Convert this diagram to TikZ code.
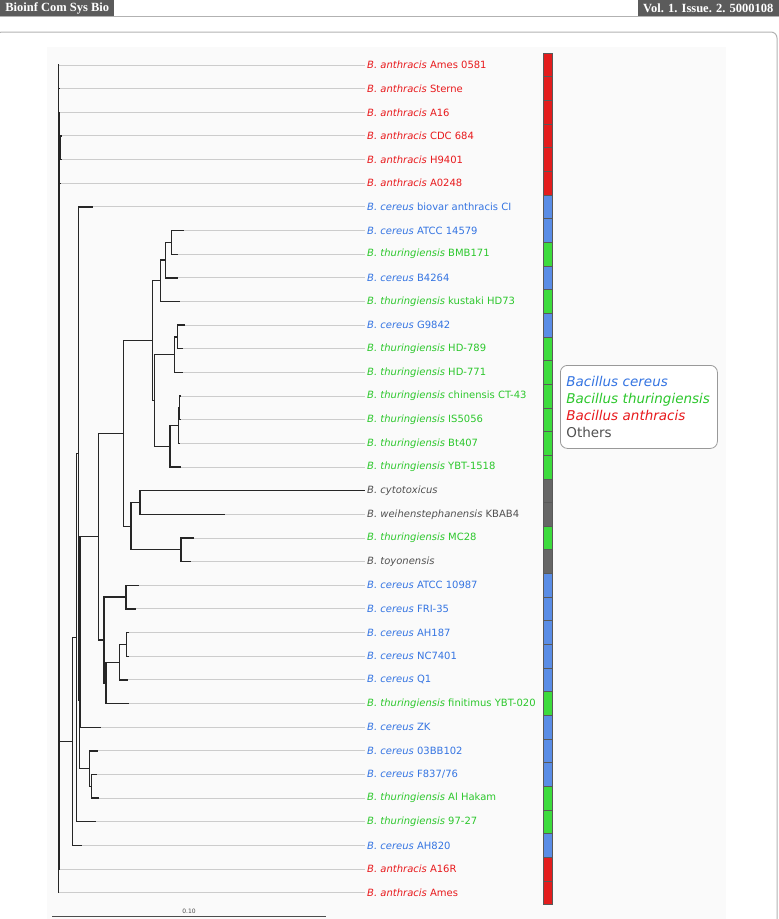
\documentclass[tikz,border=0pt]{standalone}
\usepackage{fontspec}
\setmainfont{DejaVu Sans}
\newfontfamily\headfont{Liberation Serif}
\usetikzlibrary{positioning}

\definecolor{bant}{HTML}{E8191C}
\definecolor{bcer}{HTML}{3474E2}
\definecolor{bthu}{HTML}{2CC72C}
\definecolor{both}{HTML}{505050}
\definecolor{barbant}{HTML}{E31D1D}
\definecolor{barbcer}{HTML}{5A8DE6}
\definecolor{barbthu}{HTML}{3DDB3D}
\definecolor{barboth}{HTML}{666666}
\definecolor{headgray}{HTML}{5B5B5B}

\begin{document}
\begin{tikzpicture}[x=1pt,y=-1pt,
branch/.style={black!85, line width=1.35pt},
ext/.style={black!20, line width=1pt},
leaflbl/.style={anchor=west, inner sep=2pt, font=\fontsize{10}{12}\selectfont},
barcell/.style={draw=black!65, line width=0.7pt},
headbox/.style={fill=headgray, text=white, inner sep=0pt, minimum height=16pt, font=\headfont\bfseries\fontsize{12.5}{14}\selectfont},
legendbox/.style={draw=black!40, fill=white, rounded corners=7pt, line width=0.8pt, align=left, text width=145pt, inner xsep=6pt, minimum height=83pt, font=\fontsize{13.5}{17}\selectfont},
]
\useasboundingbox (0,0) rectangle (779,919);
\clip (0,0) rectangle (779,919);

%Page header and frame
\draw[black!30, line width=0.8pt] (0,16) -- (779,16);
\node[headbox, anchor=north west, minimum width=114pt] (journal) at (0,0) {Bioinf Com Sys Bio};
\node[headbox, anchor=north east, minimum width=141pt] (issue) at (779,0) {Vol. 1. Issue. 2. 5000108};
\draw[black!30, line width=1pt, rounded corners=6pt] (-4,32) rectangle (777,940);
\fill[black!2] (47,47) rectangle (726,925);

%Leaves
\foreach \i/\tx/\col/\sp/\st in {
 1/59/bant/anthracis/Ames 0581, 2/60/bant/anthracis/Sterne, 3/60/bant/anthracis/A16,
 4/61/bant/anthracis/CDC 684, 5/61/bant/anthracis/H9401, 6/61/bant/anthracis/A0248,
 7/93/bcer/cereus/biovar anthracis CI, 8/184.3/bcer/cereus/ATCC 14579,
 9/177.7/bthu/thuringiensis/BMB171, 10/178.3/bcer/cereus/B4264,
 11/180/bthu/thuringiensis/kustaki HD73, 12/185/bcer/cereus/G9842,
 13/182.7/bthu/thuringiensis/HD-789, 14/183.3/bthu/thuringiensis/HD-771,
 15/180.5/bthu/thuringiensis/chinensis CT-43, 16/180.5/bthu/thuringiensis/IS5056,
 17/180/bthu/thuringiensis/Bt407, 18/180.7/bthu/thuringiensis/YBT-1518,
 19/365/both/cytotoxicus/{}, 20/225/both/weihenstephanensis/KBAB4,
 21/194.3/bthu/thuringiensis/MC28, 22/191/both/toyonensis/{},
 23/139.3/bcer/cereus/ATCC 10987, 24/136/bcer/cereus/FRI-35,
 25/129/bcer/cereus/AH187, 26/128.5/bcer/cereus/NC7401, 27/127.7/bcer/cereus/Q1,
 28/129/bthu/thuringiensis/finitimus YBT-020, 29/100.7/bcer/cereus/ZK,
 30/98.3/bcer/cereus/03BB102, 31/96.7/bcer/cereus/{F837/76},
 32/99.3/bthu/thuringiensis/Al Hakam, 33/95.7/bthu/thuringiensis/97-27,
 34/82.3/bcer/cereus/AH820, 35/60/bant/anthracis/A16R, 36/59/bant/anthracis/Ames}{
  \pgfmathsetmacro\ly{65+(\i-1)*23.65}
  \coordinate (l\i) at (\tx,\ly);
  \node[leaflbl, text=\col] (t\i) at (365,\ly) {\textit{B. \sp} \st};
  \draw[ext] (l\i) -- (t\i.west);
  \draw[barcell, fill=bar\col] (543.3,\ly-11.825) rectangle (552.3,\ly+11.825);
}

%Inner nodes
\coordinate (nA)  at (171.7,242.4);
\coordinate (nB)  at (165.7,260.1);
\coordinate (nC)  at (160.3,280.8);
\coordinate (nF1) at (177.7,337.0);
\coordinate (nF)  at (174.3,354.7);
\coordinate (nG2) at (179.3,407.9);
\coordinate (nG1) at (178.3,425.7);
\coordinate (nG)  at (170.0,446.4);
\coordinate (nD2) at (154.3,400.5);
\coordinate (nD)  at (152.7,340.7);
\coordinate (nK)  at (140.0,502.5);
\coordinate (nL)  at (181.0,549.8);
\coordinate (nI)  at (131.0,526.2);
\coordinate (nH)  at (123.7,433.4);
\coordinate (nN)  at (126.0,597.1);
\coordinate (nQ)  at (126.7,644.4);
\coordinate (nP)  at (119.3,662.2);
\coordinate (nM2) at (106.0,682.9);
\coordinate (nM)  at (104.0,640.0);
\coordinate (nJ)  at (98.3,536.7);
\coordinate (nZ)  at (80.0,632.0);
\coordinate (nS)  at (91.7,786.3);
\coordinate (nR)  at (89.3,768.6);
\coordinate (nY)  at (79.3,700.3);
\coordinate (nX)  at (78.3,453.6);
\coordinate (nW)  at (76.7,637.7);
\coordinate (nT)  at (72.7,741.6);
\coordinate (n2)  at (60.5,147.8);
\coordinate (n1)  at (59.4,490.7);
\coordinate (n0)  at (58.3,478.9);

%Lines
\foreach \p/\c in {nA/l8, nA/l9, nB/nA, nB/l10, nC/nB, nC/l11,
 nF1/l12, nF1/l13, nF/nF1, nF/l14, nG2/l15, nG2/l16, nG1/nG2, nG1/l17,
 nG/nG1, nG/l18, nD2/nF, nD2/nG, nD/nC, nD/nD2,
 nK/l19, nK/l20, nL/l21, nL/l22, nI/nK, nI/nL, nH/nD, nH/nI,
 nN/l23, nN/l24, nQ/l25, nQ/l26, nP/nQ, nP/l27, nM2/nP, nM2/l28,
 nM/nN, nM/nM2, nJ/nH, nJ/nM, nZ/nJ, nZ/l29,
 nS/l31, nS/l32, nR/l30, nR/nS, nY/nZ, nY/nR, nX/l7, nX/nY,
 nW/nX, nW/l33, nT/nW, nT/l34,
 n2/l4, n2/l5, n1/l3, n1/n2, n1/l6, n1/nT, n1/l35,
 n0/l1, n0/l2, n0/n1, n0/l36}
  \draw[branch] (\p) |- (\c);

%Scale
\coordinate (sb0) at (52.3,916);
\coordinate (sb1) at (325.7,916);
\draw[black!70, line width=1pt] (sb0) -- (sb1) node[midway, above=1pt, inner sep=1pt, text=black!70, font=\fontsize{6}{7}\selectfont] (scale) {0.10};

%Legend
\node[legendbox, anchor=north west] (legend) at (560,365) {%
\textcolor{bcer}{\textit{Bacillus cereus}}\\
\textcolor{bthu}{\textit{Bacillus thuringiensis}}\\
\textcolor{bant}{\textit{Bacillus anthracis}}\\
\textcolor{both}{Others}};
\end{tikzpicture}
\end{document}
